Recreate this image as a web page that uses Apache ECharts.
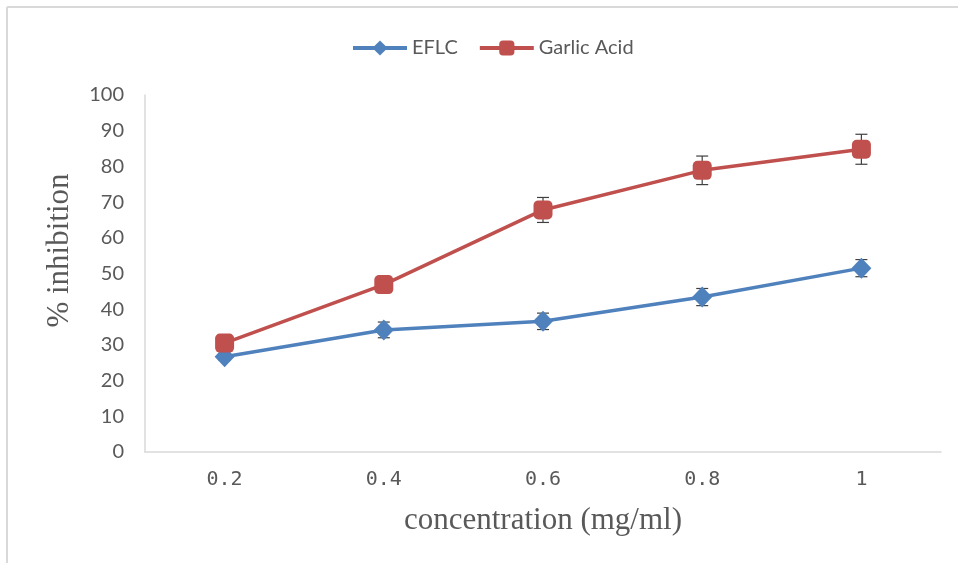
<!DOCTYPE html>
<html>
<head>
<meta charset="utf-8">
<script src="https://cdn.jsdelivr.net/npm/echarts@6/dist/echarts.min.js"></script>
<style>html,body{margin:0;padding:0;background:#fff;}#c{width:958px;height:563px;}</style>
</head>
<body>
<div id="c"></div>
<script>
var categories = ['0.2', '0.4', '0.6', '0.8', '1'];
var eflcValues = [26.7, 34.2, 36.6, 43.4, 51.5];
var eflcErrors = [1.0, 2.2, 2.3, 2.4, 2.4];
var garlicValues = [30.5, 46.9, 67.8, 78.9, 84.8];
var garlicErrors = [1.0, 1.2, 3.5, 4.0, 4.2];
var yTicks = { min: 0, max: 100, interval: 10 };

function errData(vals, errs) {
  return vals.map(function (v, i) { return [i, v, errs[i]]; });
}
function errRender(params, api) {
  var x = api.value(0), v = api.value(1), e = api.value(2);
  var hi = api.coord([x, v + e]);
  var lo = api.coord([x, v - e]);
  var hw = 6;
  var st = { stroke: '#404040', lineWidth: 1.2 };
  return {
    type: 'group',
    children: [
      { type: 'line', shape: { x1: hi[0], y1: hi[1], x2: lo[0], y2: lo[1] }, style: st },
      { type: 'line', shape: { x1: hi[0] - hw, y1: hi[1], x2: hi[0] + hw, y2: hi[1] }, style: st },
      { type: 'line', shape: { x1: lo[0] - hw, y1: lo[1], x2: lo[0] + hw, y2: lo[1] }, style: st }
    ]
  };
}

var chart = echarts.init(document.getElementById('c'), null, { renderer: 'canvas' });
chart.setOption({
  backgroundColor: '#fff',
  animation: false,
  graphic: [
    { type: 'line', shape: { x1: 7, y1: 7, x2: 958, y2: 7 }, style: { stroke: '#D9D9D9', lineWidth: 2 } },
    { type: 'line', shape: { x1: 7, y1: 7, x2: 7, y2: 563 }, style: { stroke: '#D9D9D9', lineWidth: 2 } }
  ],
  legend: {
    left: 346,
    top: 33,
    itemWidth: 54,
    itemHeight: 19,
    itemGap: 20,
    lineStyle: { width: 4 },
    textStyle: { fontFamily: 'Lato', fontSize: 20, color: '#595959' },
    data: ['EFLC', 'Garlic Acid']
  },
  grid: { left: 145, right: 17, top: 95, bottom: 111 },
  xAxis: {
    type: 'category',
    data: categories,
    boundaryGap: true,
    name: 'concentration (mg/ml)',
    nameLocation: 'middle',
    nameGap: 53,
    nameTextStyle: { fontFamily: 'Liberation Serif', fontSize: 31, color: '#595959' },
    axisLine: { lineStyle: { color: '#D9D9D9', width: 1.5 } },
    axisTick: { show: false },
    axisLabel: { fontFamily: 'DejaVu Sans Mono', fontSize: 20, color: '#595959', margin: 18 },
    splitLine: { show: false }
  },
  yAxis: {
    type: 'value',
    min: yTicks.min,
    max: yTicks.max,
    interval: yTicks.interval,
    name: '% inhibition',
    nameLocation: 'middle',
    nameRotate: 90,
    nameGap: 70,
    nameTextStyle: { fontFamily: 'Liberation Serif', fontSize: 31, color: '#595959', padding: [0, 0, 0, 46] },
    axisLine: { show: true, lineStyle: { color: '#D9D9D9', width: 1.5 } },
    axisTick: { show: false },
    axisLabel: { fontFamily: 'Lato', fontSize: 20, color: '#595959', margin: 21 },
    splitLine: { show: false }
  },
  series: [
    {
      name: 'EFLC err',
      type: 'custom',
      data: errData(eflcValues, eflcErrors),
      renderItem: errRender,
      z: 1,
      silent: true
    },
    {
      name: 'Garlic err',
      type: 'custom',
      data: errData(garlicValues, garlicErrors),
      renderItem: errRender,
      z: 1,
      silent: true
    },
    {
      name: 'EFLC',
      type: 'line',
      data: eflcValues,
      symbol: 'diamond',
      symbolSize: [20, 21],
      z: 3,
      lineStyle: { color: '#4F81BD', width: 3.5 },
      itemStyle: { color: '#4F81BD' }
    },
    {
      name: 'Garlic Acid',
      type: 'line',
      data: garlicValues,
      symbol: 'roundRect',
      symbolSize: 19,
      z: 3,
      lineStyle: { color: '#C0504D', width: 3.5 },
      itemStyle: { color: '#C0504D' }
    }
  ]
});
</script>
</body>
</html>
